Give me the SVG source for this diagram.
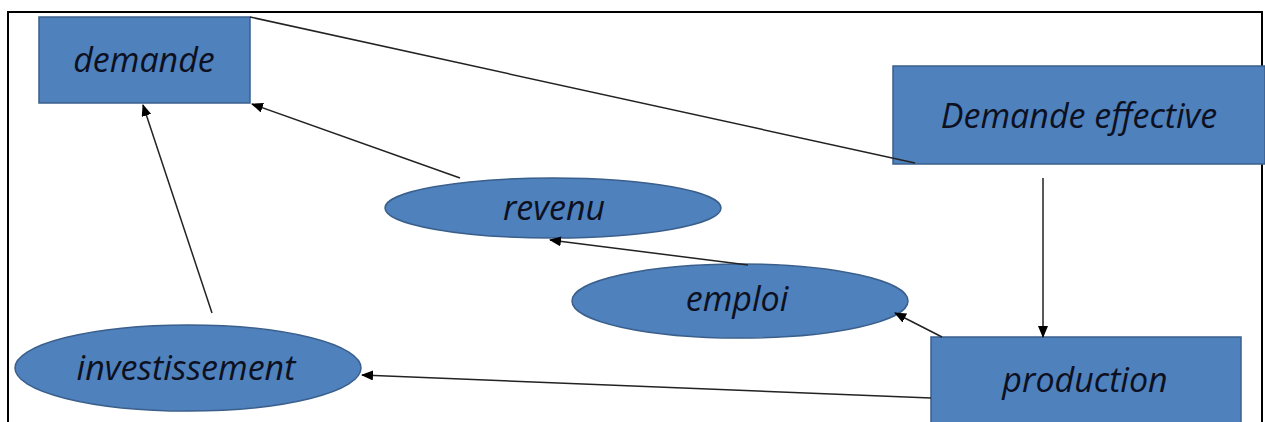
<svg xmlns="http://www.w3.org/2000/svg" width="1265" height="422" viewBox="0 0 1265 422">
<style>
.box{fill:#4F81BD;stroke:#3A5F8C;stroke-width:1.5}
.lbl{font-family:"Open Sans","Liberation Sans",sans-serif;font-style:italic;font-size:34px;fill:#0d1020;text-anchor:middle}
.c{stroke:#222;stroke-width:1.5;fill:none}
.a{marker-end:url(#arr)}
</style>
<defs>
<marker id="arr" markerUnits="userSpaceOnUse" markerWidth="12" markerHeight="10" refX="11" refY="5" orient="auto">
<path d="M0,0 L12,5 L0,10 Z" fill="#000"/>
</marker>
</defs>
<rect width="1265" height="422" fill="#fff"/>
<path d="M8,422 V12 H1262 V422" fill="none" stroke="#000" stroke-width="2"/>
<g id="demande"><rect class="box" x="39" y="17" width="211" height="86"/><text class="lbl" x="144" y="72">demande</text></g>
<g id="demande-effective"><rect class="box" x="893" y="66" width="372" height="98"/><text class="lbl" x="1079" y="128">Demande effective</text></g>
<g id="production"><rect class="box" x="931" y="337" width="310" height="100"/><text class="lbl" x="1085" y="392">production</text></g>
<g id="investissement"><ellipse class="box" cx="188" cy="368" rx="173" ry="43"/><text class="lbl" x="186" y="380">investissement</text></g>
<g id="revenu"><ellipse class="box" cx="553" cy="208" rx="168" ry="30"/><text class="lbl" x="554" y="220">revenu</text></g>
<g id="emploi"><ellipse class="box" cx="740" cy="301" rx="168" ry="37"/><text class="lbl" x="737" y="311">emploi</text></g>
<g id="connectors">
<line class="c" x1="250" y1="17" x2="915" y2="163"/>
<line class="c a" x1="460" y1="178" x2="252" y2="104"/>
<line class="c a" x1="212" y1="313" x2="143" y2="105"/>
<line class="c a" x1="1043" y1="178" x2="1043" y2="337"/>
<line class="c a" x1="942" y1="337" x2="895" y2="313"/>
<line class="c a" x1="748" y1="265" x2="550" y2="240"/>
<line class="c a" x1="931" y1="398" x2="362" y2="375"/>
</g>
</svg>
